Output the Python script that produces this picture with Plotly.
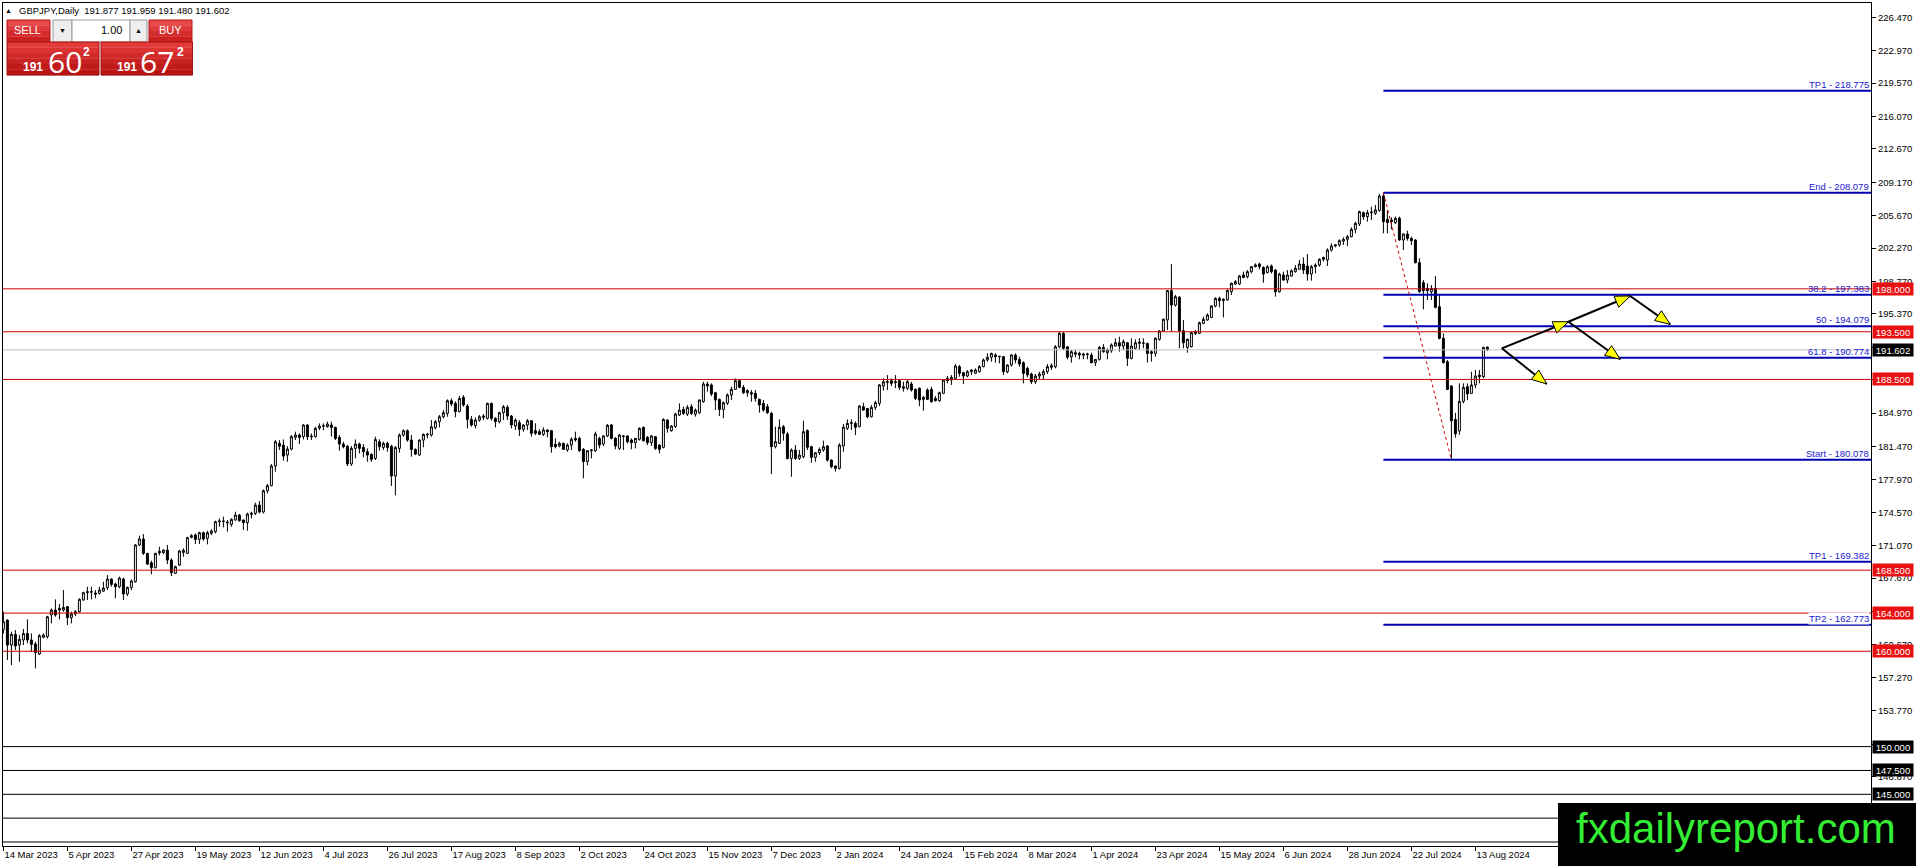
import plotly.graph_objects as go

# ---------------- data ----------------
symbol = "GBPJPY,Daily"
bid = 191.602
ask = 191.672
lot_text = "1.00"

tick_bars = [0, 16, 32, 48, 64, 80, 96, 112, 128, 144, 160, 176, 192, 208, 224, 240,
             256, 272, 288, 304, 320, 336, 352, 368]
tick_labels = ["14 Mar 2023", "5 Apr 2023", "27 Apr 2023", "19 May 2023", "12 Jun 2023",
               "4 Jul 2023", "26 Jul 2023", "17 Aug 2023", "8 Sep 2023", "2 Oct 2023",
               "24 Oct 2023", "15 Nov 2023", "7 Dec 2023", "2 Jan 2024", "24 Jan 2024",
               "15 Feb 2024", "8 Mar 2024", "1 Apr 2024", "23 Apr 2024", "15 May 2024",
               "6 Jun 2024", "28 Jun 2024", "22 Jul 2024", "13 Aug 2024"]

opens = [
    162.29, 163.27, 160.65, 161.77, 160.65, 161.18, 161.87, 161.18, 160.76, 159.71,
    161.46, 161.53, 163.80, 164.32, 164.50, 164.32, 164.67, 163.52, 163.90, 164.15,
    165.37, 166.14, 166.20, 166.10, 166.07, 166.30, 166.66, 167.57, 167.05, 166.77,
    167.57, 166.00, 166.70, 167.29, 171.14, 171.77, 170.26, 169.28, 168.76, 170.47,
    170.33, 170.61, 169.56, 168.17, 169.04, 170.37, 170.26, 171.94, 172.19, 171.73,
    172.43, 171.84, 172.36, 172.54, 173.58, 173.65, 173.55, 173.30, 173.76, 174.28,
    173.76, 173.48, 174.35, 174.46, 175.33, 174.60, 176.83, 177.36, 179.42, 181.80,
    181.62, 180.57, 181.20, 182.42, 182.67, 182.50, 183.72, 182.57, 182.50, 183.40,
    183.60, 183.55, 183.72, 183.47, 182.42, 181.72, 181.50, 179.63, 181.27, 181.72,
    181.37, 180.92, 180.64, 180.22, 181.97, 181.37, 181.80, 181.50, 178.37, 181.27,
    182.67, 183.12, 182.14, 181.16, 180.57, 182.14, 182.74, 182.67, 183.44, 184.07,
    184.59, 184.94, 186.27, 185.99, 185.12, 186.62, 185.71, 184.31, 183.65, 184.24,
    184.52, 184.42, 185.99, 184.42, 184.07, 185.01, 185.57, 184.66, 183.62, 183.97,
    183.27, 183.72, 184.17, 183.13, 183.02, 182.74, 183.20, 183.13, 181.70, 181.52,
    181.80, 181.10, 181.62, 182.32, 182.32, 181.17, 179.88, 181.03, 181.03, 182.32,
    181.73, 182.57, 183.72, 182.32, 181.27, 182.50, 182.57, 182.15, 181.87, 182.22,
    183.48, 182.43, 181.87, 182.50, 181.62, 181.38, 184.24, 183.13, 183.55, 184.77,
    185.36, 184.87, 185.64, 184.87, 185.01, 186.17, 188.02, 187.92, 187.11, 186.41,
    185.36, 186.00, 186.87, 187.46, 188.37, 187.67, 187.32, 187.11, 187.04, 186.41,
    185.99, 185.64, 184.94, 181.45, 181.80, 183.55, 182.78, 180.22, 181.10, 180.22,
    180.40, 183.13, 181.45, 180.33, 180.82, 181.10, 181.52, 180.05, 179.42, 179.18,
    181.52, 183.37, 183.89, 183.89, 183.55, 185.64, 185.46, 184.59, 185.57, 185.99,
    187.81, 188.26, 188.37, 188.15, 188.37, 187.74, 187.57, 188.02, 187.46, 187.57,
    186.41, 187.39, 187.46, 186.51, 186.27, 187.04, 188.61, 188.44, 188.61, 189.84,
    189.21, 188.86, 189.31, 189.14, 189.31, 189.84, 190.54, 190.82, 191.06, 190.89,
    190.89, 189.31, 190.01, 191.06, 190.60, 190.26, 189.66, 189.07, 188.26, 188.86,
    188.97, 189.31, 189.77, 189.84, 191.93, 193.33, 191.93, 190.88, 191.30, 191.23,
    191.16, 191.10, 191.06, 190.26, 190.60, 191.86, 191.30, 191.51, 192.00, 192.35,
    192.00, 192.35, 190.71, 191.76, 192.28, 192.28, 192.28, 191.23, 191.23, 192.70,
    193.58, 194.73, 197.81, 196.30, 197.11, 193.61, 191.86, 191.93, 193.30, 193.33,
    194.38, 194.73, 195.00, 196.20, 197.00, 196.76, 196.83, 197.70, 198.50, 198.50,
    199.45, 199.27, 199.80, 200.32, 200.60, 200.25, 199.70, 200.40, 199.97, 197.70,
    199.45, 198.92, 199.34, 199.80, 200.05, 200.60, 200.39, 199.55, 200.32, 200.50,
    201.09, 201.02, 202.07, 202.50, 202.60, 203.00, 203.19, 203.47, 204.24, 204.80,
    205.99, 205.57, 205.99, 205.92, 206.20, 207.73, 205.29, 205.22, 204.94, 205.40,
    203.12, 203.75, 203.29, 203.12, 200.74, 198.65, 198.05, 197.70, 198.05, 196.13,
    192.81, 190.36, 187.81, 184.30, 183.10, 186.20, 187.74, 187.04, 187.92, 188.96,
    188.79, 191.877,
]

highs = [
    164.15, 163.34, 162.05, 162.22, 161.70, 162.33, 163.34, 161.87, 161.00, 161.80,
    161.87, 163.72, 164.50, 165.44, 164.95, 166.42, 164.74, 164.15, 164.32, 165.55,
    166.24, 166.77, 166.77, 166.42, 166.77, 167.29, 167.99, 167.64, 167.19, 167.82,
    167.71, 166.77, 167.54, 171.24, 172.12, 172.29, 170.33, 169.49, 170.33, 170.96,
    170.68, 171.14, 169.74, 168.97, 170.61, 170.79, 172.01, 172.29, 172.36, 172.54,
    172.54, 172.64, 172.78, 173.69, 173.93, 174.11, 173.76, 173.93, 174.63, 174.39,
    173.80, 174.53, 174.63, 175.58, 175.75, 176.97, 177.53, 179.63, 182.14, 182.14,
    182.21, 181.51, 182.67, 183.02, 182.84, 183.82, 183.80, 182.84, 183.54, 183.89,
    183.89, 184.07, 184.07, 183.55, 182.67, 181.97, 181.62, 181.52, 182.21, 181.87,
    181.72, 181.27, 180.75, 182.49, 182.21, 181.97, 181.97, 181.65, 181.51, 182.84,
    183.26, 183.26, 182.67, 181.27, 182.21, 182.84, 182.91, 184.24, 184.24, 184.77,
    185.29, 186.41, 186.51, 186.20, 186.76, 186.86, 185.92, 184.66, 184.52, 184.77,
    184.87, 186.06, 186.06, 184.52, 185.12, 185.81, 185.82, 184.77, 184.42, 184.24,
    183.82, 184.34, 184.24, 183.90, 183.27, 183.48, 183.27, 183.20, 182.32, 181.97,
    181.87, 181.80, 182.43, 183.02, 182.50, 181.30, 181.03, 181.17, 183.02, 182.50,
    182.67, 183.83, 183.83, 182.45, 182.78, 182.67, 182.64, 182.32, 182.36, 183.48,
    183.55, 182.57, 182.67, 182.57, 181.70, 184.42, 184.30, 183.72, 185.01, 185.99,
    185.64, 185.81, 185.92, 185.46, 186.41, 188.26, 188.26, 188.09, 187.20, 186.50,
    186.20, 187.04, 187.74, 188.61, 188.50, 187.92, 187.46, 187.39, 187.39, 186.50,
    186.34, 185.92, 185.10, 183.55, 184.31, 183.72, 183.00, 181.27, 181.62, 181.10,
    184.17, 183.27, 181.55, 180.82, 181.38, 182.08, 181.62, 180.10, 179.50, 181.80,
    183.83, 184.31, 184.31, 184.10, 185.82, 186.06, 185.50, 185.82, 186.27, 188.02,
    188.61, 188.96, 188.61, 188.96, 188.51, 188.26, 188.44, 188.26, 187.55, 187.65,
    186.76, 187.57, 187.74, 186.76, 187.22, 188.51, 188.86, 188.96, 190.12, 190.01,
    189.30, 189.49, 189.56, 189.66, 190.01, 190.70, 191.24, 191.30, 191.24, 190.96,
    190.96, 190.10, 191.16, 191.23, 190.88, 190.40, 189.84, 189.20, 189.07, 189.31,
    189.56, 190.12, 190.19, 192.11, 193.50, 193.50, 192.00, 191.58, 191.58, 191.41,
    191.30, 191.30, 191.30, 190.65, 192.00, 192.21, 191.76, 192.28, 192.81, 192.98,
    192.70, 192.40, 192.81, 192.70, 192.81, 192.81, 192.35, 191.55, 192.91, 193.68,
    194.91, 197.88, 200.60, 197.36, 197.25, 194.73, 192.80, 193.50, 193.68, 194.55,
    195.08, 195.43, 196.30, 197.11, 197.18, 197.00, 197.95, 198.65, 198.92, 199.45,
    199.80, 199.97, 200.39, 200.67, 200.74, 200.35, 200.50, 200.55, 200.04, 199.69,
    199.80, 199.97, 200.04, 200.50, 201.02, 201.30, 201.65, 200.50, 200.67, 201.20,
    201.37, 202.25, 202.77, 202.70, 203.19, 203.40, 203.65, 204.45, 205.04, 206.20,
    206.10, 206.27, 206.61, 206.79, 207.94, 208.079, 206.27, 205.50, 205.57, 205.57,
    203.82, 204.10, 203.47, 203.20, 201.20, 198.92, 198.58, 198.40, 199.34, 197.46,
    193.33, 190.54, 187.90, 185.00, 188.09, 188.09, 188.09, 189.31, 189.49, 189.49,
    191.93, 191.959,
]

lows = [
    161.87, 159.08, 158.55, 160.13, 158.90, 160.65, 160.83, 159.95, 158.20, 159.60,
    161.35, 161.35, 162.92, 163.62, 163.34, 164.15, 162.75, 162.92, 163.70, 164.04,
    165.30, 165.37, 165.44, 165.55, 165.96, 166.24, 166.42, 166.77, 165.55, 166.60,
    165.37, 165.79, 166.42, 167.19, 171.03, 170.09, 169.04, 168.06, 168.69, 170.05,
    170.20, 169.14, 167.89, 168.10, 168.94, 169.91, 170.20, 171.84, 171.24, 171.24,
    171.59, 171.21, 172.19, 172.36, 173.06, 172.99, 172.54, 173.06, 173.69, 173.58,
    172.71, 172.64, 173.93, 174.28, 174.45, 174.45, 176.55, 177.30, 178.82, 181.10,
    179.98, 179.87, 181.05, 182.14, 181.72, 182.21, 182.14, 182.14, 182.40, 183.19,
    183.19, 183.45, 182.50, 182.14, 181.03, 181.27, 179.42, 179.42, 180.22, 180.75,
    180.33, 179.87, 179.87, 180.05, 181.03, 181.10, 180.92, 177.33, 176.34, 180.82,
    182.50, 181.97, 180.40, 180.57, 180.50, 181.38, 182.32, 182.50, 183.26, 183.47,
    184.42, 184.59, 185.71, 184.52, 185.05, 185.64, 183.37, 183.55, 183.37, 184.07,
    184.24, 184.30, 184.17, 183.47, 183.89, 184.24, 184.24, 183.37, 183.20, 182.57,
    183.02, 183.20, 182.50, 182.67, 182.67, 182.57, 182.43, 180.82, 181.27, 181.38,
    181.10, 180.92, 181.10, 181.97, 180.92, 178.13, 179.50, 180.22, 180.90, 181.27,
    181.52, 182.45, 182.22, 181.17, 181.10, 181.10, 181.80, 181.17, 181.27, 182.08,
    181.97, 181.62, 181.52, 181.10, 180.75, 181.27, 182.92, 183.02, 183.40, 184.66,
    184.77, 184.66, 184.77, 184.60, 184.90, 186.06, 187.22, 186.76, 185.29, 184.66,
    184.42, 185.82, 186.34, 187.39, 187.57, 186.97, 186.69, 186.17, 186.17, 185.02,
    185.12, 184.87, 178.58, 181.27, 181.73, 182.08, 180.12, 178.30, 180.05, 180.05,
    180.22, 181.10, 179.77, 179.87, 180.57, 180.92, 179.87, 179.18, 178.83, 179.05,
    180.92, 183.20, 183.20, 182.67, 183.48, 185.22, 184.42, 184.52, 185.29, 185.71,
    187.32, 187.39, 187.81, 187.57, 187.39, 187.22, 187.39, 187.22, 186.34, 185.71,
    185.22, 186.34, 186.06, 186.17, 186.17, 186.97, 188.09, 187.92, 188.44, 188.79,
    188.02, 188.72, 188.96, 189.07, 189.21, 189.77, 190.36, 190.36, 190.26, 190.19,
    188.96, 189.14, 189.84, 190.19, 189.84, 188.09, 188.72, 188.02, 188.02, 188.51,
    188.51, 189.07, 189.49, 189.66, 191.76, 191.58, 190.61, 190.26, 190.82, 190.61,
    190.61, 190.61, 190.19, 189.91, 190.47, 191.30, 190.61, 191.30, 191.93, 191.41,
    191.58, 189.91, 190.60, 191.65, 191.58, 191.76, 190.26, 190.36, 190.88, 192.56,
    193.50, 193.68, 193.50, 196.13, 191.76, 191.76, 191.30, 191.86, 193.16, 193.26,
    194.31, 194.66, 194.91, 196.06, 196.06, 195.00, 196.76, 197.35, 198.40, 198.40,
    199.10, 199.10, 199.62, 200.25, 200.04, 198.63, 199.62, 199.60, 197.18, 197.60,
    198.86, 198.58, 199.27, 199.69, 199.97, 199.55, 198.86, 198.86, 199.62, 200.32,
    200.85, 200.39, 201.90, 202.35, 202.42, 202.60, 202.49, 203.40, 203.82, 204.59,
    205.22, 205.04, 205.22, 205.74, 206.10, 203.82, 203.82, 204.24, 204.80, 203.05,
    202.07, 203.05, 202.60, 200.67, 197.60, 195.85, 196.83, 196.83, 195.95, 192.70,
    190.19, 187.39, 180.078, 182.40, 182.70, 185.99, 186.34, 186.97, 187.57, 188.09,
    188.61, 191.480,
]

closes = [
    163.10, 160.65, 161.77, 160.55, 161.25, 161.87, 161.18, 160.72, 159.85, 161.63,
    161.70, 163.62, 164.32, 163.80, 164.32, 164.60, 163.52, 163.90, 164.15, 165.44,
    166.14, 166.24, 166.24, 166.00, 166.42, 166.63, 167.57, 167.01, 166.77, 167.68,
    166.00, 166.70, 167.36, 171.14, 171.77, 170.26, 169.14, 168.76, 170.26, 170.33,
    170.61, 169.56, 168.24, 168.87, 170.51, 170.58, 171.91, 172.12, 171.73, 172.43,
    171.77, 172.43, 172.61, 173.58, 173.65, 173.62, 173.48, 173.83, 174.28, 173.69,
    173.48, 174.39, 174.46, 175.33, 174.60, 176.83, 177.36, 179.42, 181.97, 181.50,
    180.47, 181.20, 182.50, 182.67, 182.42, 183.72, 182.50, 182.50, 183.37, 183.60,
    183.65, 183.82, 183.47, 182.32, 181.72, 181.44, 179.63, 181.27, 181.72, 181.27,
    180.92, 180.57, 180.12, 182.20, 181.44, 181.80, 181.37, 178.37, 181.37, 182.67,
    183.12, 182.14, 181.16, 180.67, 182.14, 182.74, 182.70, 183.54, 184.07, 184.59,
    185.01, 186.27, 185.92, 185.12, 186.51, 185.81, 184.31, 183.72, 184.24, 184.59,
    184.66, 185.99, 184.42, 184.07, 185.01, 185.64, 184.66, 183.72, 184.24, 183.27,
    183.72, 184.17, 182.85, 182.85, 182.74, 183.20, 183.02, 181.45, 181.45, 181.80,
    181.17, 181.62, 182.22, 182.15, 181.03, 179.88, 181.03, 181.10, 182.78, 181.62,
    182.57, 183.69, 182.32, 181.52, 182.67, 182.57, 181.97, 181.87, 182.32, 183.37,
    182.08, 181.87, 182.57, 181.27, 181.17, 184.31, 183.37, 183.62, 184.87, 185.29,
    184.94, 185.57, 184.94, 185.29, 186.34, 188.02, 187.81, 186.97, 186.34, 185.36,
    186.06, 186.87, 187.46, 188.37, 187.67, 187.11, 187.11, 186.97, 186.52, 185.82,
    185.29, 185.01, 181.45, 181.97, 183.48, 182.85, 180.22, 181.10, 180.22, 180.57,
    183.02, 181.38, 180.33, 180.82, 181.17, 181.45, 180.05, 179.35, 179.18, 181.62,
    183.48, 183.89, 183.97, 183.48, 185.71, 185.29, 184.59, 185.57, 186.06, 187.92,
    188.26, 188.20, 188.09, 188.26, 187.67, 187.57, 188.26, 187.39, 186.51, 186.34,
    186.62, 186.41, 186.17, 186.27, 187.11, 188.44, 188.37, 188.72, 189.91, 189.14,
    188.86, 189.31, 189.49, 189.49, 189.84, 190.54, 190.82, 191.23, 190.89, 190.92,
    189.31, 190.01, 191.06, 190.54, 190.12, 189.14, 188.97, 188.26, 188.86, 189.07,
    189.31, 189.84, 189.94, 191.93, 193.33, 191.76, 190.82, 191.41, 191.16, 191.06,
    191.06, 191.16, 190.26, 190.60, 191.86, 191.41, 191.58, 192.11, 192.35, 192.00,
    192.46, 190.71, 192.00, 192.35, 192.42, 192.32, 191.23, 191.41, 192.81, 193.58,
    194.80, 197.81, 196.30, 197.18, 193.61, 192.35, 192.70, 193.40, 193.50, 194.45,
    194.80, 195.26, 196.20, 197.00, 196.76, 196.90, 197.81, 198.58, 198.75, 199.34,
    199.20, 199.80, 200.32, 200.50, 200.32, 199.55, 200.32, 199.80, 197.70, 199.55,
    198.92, 199.45, 199.90, 200.15, 200.60, 199.97, 199.55, 200.32, 200.50, 201.09,
    201.30, 202.07, 202.50, 202.60, 203.05, 203.19, 203.47, 204.24, 204.87, 206.10,
    205.57, 205.99, 206.05, 206.27, 207.73, 205.04, 204.94, 205.04, 205.40, 203.12,
    203.75, 203.29, 203.05, 200.74, 197.70, 197.81, 197.81, 198.05, 196.06, 192.81,
    190.26, 187.46, 184.17, 182.80, 186.20, 187.67, 186.97, 187.92, 188.86, 188.79,
    191.86, 191.602,
]

y_tick_values = [226.47, 222.97, 219.57, 216.07, 212.67, 209.17, 205.67, 202.27, 198.77,
                 195.37, 191.87, 188.47, 184.97, 181.47, 177.97, 174.57, 171.07, 167.67,
                 164.17, 160.67, 157.27, 153.77, 150.27, 146.87]

red_levels = [198.0, 193.5, 188.5, 168.5, 164.0, 160.0]
black_levels = [150.0, 147.5, 145.0, 142.5, 140.0]

fib_high_bar = 345
fib_low_bar = 362
fib_high = 208.079
fib_low = 180.078
fib_names = ["TP1", "End", "38.2", "50", "61.8", "Start", "TP1", "TP2"]
fib_values = [218.775, 208.079, 197.383, 194.079, 190.774, 180.078, 169.382, 162.773]

# projected path (bar, price) -> (bar, price)
arrow_x0 = [374.6, 374.6, 391.25, 391.25, 406.7]
arrow_y0 = [191.76, 191.76, 194.55, 194.55, 197.25]
arrow_x1 = [385.85, 391.25, 404.2, 406.7, 416.7]
arrow_y1 = [188.02, 194.55, 190.61, 197.25, 194.28]

watermark = "fxdailyreport.com"

n = len(closes)
assert len(opens) == n and len(highs) == n and len(lows) == n, (len(opens), len(highs), len(lows), n)

# ---------------- layout geometry ----------------
W, H = 1916, 866
ML, MR, MT, MB = 3, 45, 3, 20
PW = W - ML - MR
PH = H - MT - MB
X_RANGE = [-0.1, 466.9]
Y_RANGE = [139.58, 227.97]
FONT = "Liberation Sans, Arial, sans-serif"
LIGHT_FONT = "Open Sans, Liberation Sans, Arial, sans-serif"

ppb = PW / (X_RANGE[1] - X_RANGE[0])
ppp = PH / (Y_RANGE[1] - Y_RANGE[0])


def px_x(px):
    return (px - ML) / PW


def px_y(py):
    return (MT + PH - py) / PH


def ann_px(text, x, y, xanchor="left", yanchor="middle", size=9.5, color="black",
           family=FONT, **kw):
    return dict(text=text, x=px_x(x), y=px_y(y), xref="paper", yref="paper",
                xanchor=xanchor, yanchor=yanchor, showarrow=False,
                font=dict(size=size, color=color, family=family), **kw)


def rect_px(x0, y0, x1, y1, fill, line=None, lw=1):
    return dict(type="rect", xref="paper", yref="paper", x0=px_x(x0), x1=px_x(x1),
                y0=px_y(y1), y1=px_y(y0), fillcolor=fill,
                line=dict(color=line or fill, width=lw), layer="above")


def hex_mix(c1, c2, t):
    a = [int(c1[i:i + 2], 16) for i in (1, 3, 5)]
    b = [int(c2[i:i + 2], 16) for i in (1, 3, 5)]
    return "#" + "".join(f"{round(a[k] + (b[k] - a[k]) * t):02x}" for k in range(3))


def gradient_px(x0, y0, x1, y1, c_top, c_bot, border, steps=6):
    out = []
    h = (y1 - y0) / steps
    for i in range(steps):
        col = hex_mix(c_top, c_bot, i / (steps - 1))
        out.append(dict(type="rect", xref="paper", yref="paper",
                        x0=px_x(x0), x1=px_x(x1), y0=px_y(y0 + (i + 1) * h + 0.3),
                        y1=px_y(y0 + i * h), fillcolor=col, line=dict(width=0),
                        layer="above"))
    out.append(dict(type="rect", xref="paper", yref="paper", x0=px_x(x0), x1=px_x(x1),
                    y0=px_y(y1), y1=px_y(y0), fillcolor="rgba(0,0,0,0)",
                    line=dict(color=border, width=1), layer="above"))
    return out


def head_path(xa, ya, xb, yb, L=15.0, Wd=6.0):
    dx = (xb - xa) * ppb
    dy = -(yb - ya) * ppp
    d = (dx * dx + dy * dy) ** 0.5
    ux, uy = dx / d, dy / d
    nx, ny = -uy, ux
    bx, by = -L * ux, -L * uy
    pts = [(0.0, 0.0), (bx + Wd * nx, by + Wd * ny), (bx - Wd * nx, by - Wd * ny)]
    c = [(xb + p / ppb, yb - q / ppp) for p, q in pts]
    return "M {:.4f} {:.4f} L {:.4f} {:.4f} L {:.4f} {:.4f} Z".format(
        c[0][0], c[0][1], c[1][0], c[1][1], c[2][0], c[2][1])


# ---------------- figure ----------------
fig = go.Figure()
fig.add_trace(go.Candlestick(
    x=list(range(n)), open=opens, high=highs, low=lows, close=closes,
    increasing=dict(line=dict(color="black", width=1), fillcolor="white"),
    decreasing=dict(line=dict(color="black", width=1), fillcolor="black"),
    whiskerwidth=0, showlegend=False, hoverinfo="skip",
))

shapes = []
annotations = []

# horizontal support / resistance lines
for lv in red_levels:
    shapes.append(dict(type="line", xref="paper", yref="y", x0=0, x1=1, y0=lv, y1=lv,
                       line=dict(color="#cc0000", width=1), layer="above"))
for lv in black_levels:
    shapes.append(dict(type="line", xref="paper", yref="y", x0=0, x1=1, y0=lv, y1=lv,
                       line=dict(color="black", width=1), layer="above"))
# current bid line
shapes.append(dict(type="line", xref="paper", yref="y", x0=0, x1=1, y0=bid, y1=bid,
                   line=dict(color="#c0c0c0", width=1), layer="above"))

# fibonacci levels
for name, val in zip(fib_names, fib_values):
    shapes.append(dict(type="line", xref="x", yref="y", x0=fib_high_bar, x1=X_RANGE[1],
                       y0=val, y1=val, line=dict(color="#0000b4", width=2), layer="above"))
    annotations.append(dict(
        text=f"{name} - {val:.3f}", x=1, y=val, xref="paper", yref="y",
        xanchor="right", yanchor="bottom", showarrow=False, xshift=-1, borderpad=0,
        bgcolor="white" if name == "TP2" else "rgba(0,0,0,0)",
        font=dict(size=9.5, color="#2020d0", family=FONT)))

# fib trend line
shapes.append(dict(type="line", xref="x", yref="y", x0=fib_high_bar, y0=fib_high,
                   x1=fib_low_bar, y1=fib_low,
                   line=dict(color="#cc0000", width=1, dash="dot"), layer="above"))

# projected path arrows
for xa, ya, xb, yb in zip(arrow_x0, arrow_y0, arrow_x1, arrow_y1):
    shapes.append(dict(type="line", xref="x", yref="y", x0=xa, y0=ya, x1=xb, y1=yb,
                       line=dict(color="black", width=2), layer="above"))
for xa, ya, xb, yb in zip(arrow_x0, arrow_y0, arrow_x1, arrow_y1):
    shapes.append(dict(type="path", xref="x", yref="y", path=head_path(xa, ya, xb, yb),
                       fillcolor="#ffff00", line=dict(color="black", width=1), layer="above"))

# price-axis labels for the horizontal lines
wm_top_price = Y_RANGE[1] - (803 - MT) / ppp


def axis_box(val, bg):
    return dict(text=f"{val:.3f}", x=1, y=val, xref="paper", yref="y", xanchor="left",
                yanchor="middle", xshift=1, showarrow=False, bgcolor=bg, borderpad=1,
                width=38, height=10, align="center",
                font=dict(size=9.5, color="white", family=FONT))


for lv in red_levels:
    annotations.append(axis_box(lv, "#e81010"))
annotations.append(axis_box(bid, "black"))
for lv in black_levels:
    if lv > wm_top_price + 0.6:
        annotations.append(axis_box(lv, "black"))

# header line
annotations.append(ann_px("\u25b2", 3, 10.7, size=7))
annotations.append(ann_px(
    f"{symbol}\u00a0\u00a0{opens[-1]:.3f} {highs[-1]:.3f} {lows[-1]:.3f} {closes[-1]:.3f}",
    17, 10.7, size=9.5))

# one-click trading panel
shapes += gradient_px(7, 20, 50, 42, "#e84848", "#cc2020", "#b01818", steps=4)
shapes += [
    rect_px(53, 20, 72, 42, "#eeeeee", "#9a9a9a"),
    rect_px(72, 20, 130, 42, "white", "#9a9a9a"),
    rect_px(130, 20, 147, 42, "#eeeeee", "#9a9a9a"),
]
shapes += gradient_px(149, 20, 192, 42, "#e84848", "#cc2020", "#b01818", steps=4)
shapes += gradient_px(7, 42, 99, 75, "#e43a3a", "#b81212", "#a01414", steps=6)
shapes += gradient_px(101, 42, 192.5, 75, "#e43a3a", "#b81212", "#a01414", steps=6)

bid_s = f"{bid:.3f}"
ask_s = f"{ask:.3f}"
annotations += [
    ann_px("SELL", 27.5, 30.5, xanchor="center", size=11, color="white"),
    ann_px("\u25bc", 62, 30.5, xanchor="center", size=7),
    ann_px(lot_text, 124, 30.5, xanchor="right", size=11),
    ann_px("\u25b2", 138.5, 30.5, xanchor="center", size=7),
    ann_px("BUY", 170.5, 30.5, xanchor="center", size=11, color="white"),
    ann_px(f"<b>{bid_s[:3]}</b>", 33, 66.5, xanchor="center", size=12, color="white"),
    ann_px(bid_s[4:6], 65, 61, xanchor="center", size=30, color="white",
           family=LIGHT_FONT),
    ann_px(f"<b>{bid_s[6:]}</b>", 86.5, 52, xanchor="center", size=12, color="white"),
    ann_px(f"<b>{ask_s[:3]}</b>", 127, 66.5, xanchor="center", size=12, color="white"),
    ann_px(ask_s[4:6], 156.5, 61, xanchor="center", size=30, color="white",
           family=LIGHT_FONT),
    ann_px(f"<b>{ask_s[6:]}</b>", 180.5, 52, xanchor="center", size=12, color="white"),
]

# watermark
shapes.append(dict(type="rect", xref="paper", yref="paper", x0=px_x(1558), x1=px_x(1920),
                   y0=px_y(870), y1=px_y(803), fillcolor="black", line=dict(width=0),
                   layer="above"))
annotations.append(ann_px(watermark, 1736, 828.5, xanchor="center", size=42, color="#33ee33"))

fig.update_layout(
    width=W, height=H,
    margin=dict(l=ML, r=MR, t=MT, b=MB, pad=0),
    paper_bgcolor="white", plot_bgcolor="white",
    showlegend=False,
    font=dict(family=FONT, size=9.5, color="black"),
    shapes=shapes, annotations=annotations,
    xaxis=dict(range=X_RANGE, rangeslider=dict(visible=False), showgrid=False,
               zeroline=False, showline=True, linecolor="black", linewidth=1, mirror=True,
               ticks="outside", ticklen=4, tickcolor="black", tickmode="array",
               tickvals=tick_bars, ticktext=tick_labels, ticklabelposition="outside right",
               tickangle=0, tickfont=dict(size=9.5, family=FONT, color="black"),
               fixedrange=True),
    yaxis=dict(range=Y_RANGE, side="right", showgrid=False, zeroline=False,
               showline=True, linecolor="black", linewidth=1, mirror=True,
               ticks="outside", ticklen=4, tickcolor="black", tickmode="array",
               tickvals=y_tick_values, tickformat=".3f",
               tickfont=dict(size=9.5, family=FONT, color="black"), fixedrange=True),
)

fig.write_html(
    "out.html",
    config={"displayModeBar": False},
    post_script="document.body.style.margin='0px';document.body.style.overflow='hidden';",
)
